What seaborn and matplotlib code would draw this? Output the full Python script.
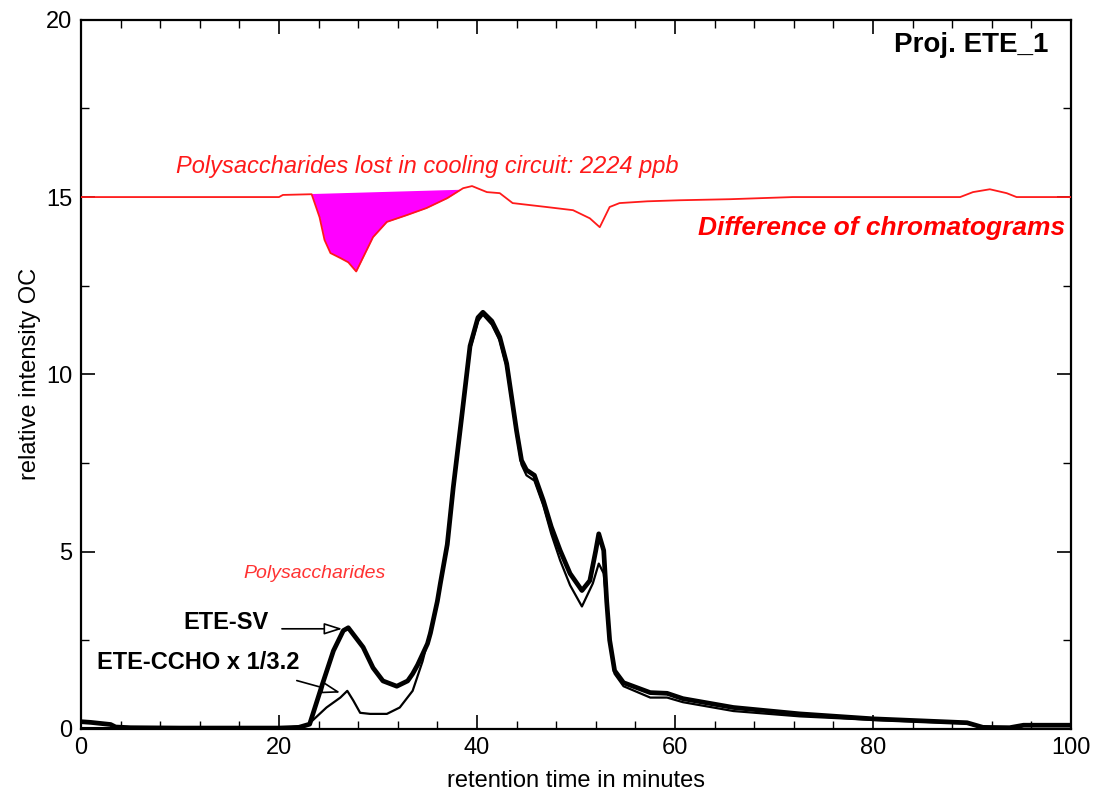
import numpy as np
import pandas as pd
import matplotlib
matplotlib.use("Agg")
import matplotlib.pyplot as plt
import seaborn as sns
from matplotlib.ticker import MultipleLocator

# ---------------- data ----------------
sv_x = [0, 1, 2, 3, 3.5, 5, 10, 15, 20, 22, 23.1, 24.4, 25.5, 26.5, 27, 28.5, 29.5, 30.5, 31.9,
        33.0, 33.5, 34, 35, 35.3, 36, 36.3, 37, 37.6, 38.5, 39.3, 40.1, 40.6, 41.5, 42.3, 43,
        43.5, 44, 44.5, 45, 45.8, 46.7, 47.5, 48.4, 49.4, 50.6, 51.4, 52.0, 52.3, 52.8, 53.1,
        53.4, 53.9, 54.8, 57.5, 59.2, 60.8, 65.9, 72.6, 80, 89.5, 91.1, 93.8, 95.2, 100]
sv_y = [0.2, 0.18, 0.15, 0.12, 0.05, 0.03, 0.02, 0.02, 0.02, 0.04, 0.13, 1.27, 2.2, 2.77, 2.85,
        2.3, 1.72, 1.35, 1.2, 1.35, 1.55, 1.8, 2.4, 2.7, 3.6, 4.1, 5.2, 6.8, 8.9, 10.8, 11.6,
        11.75, 11.5, 11.05, 10.3, 9.35, 8.4, 7.57, 7.3, 7.15, 6.44, 5.7, 5.03, 4.38, 3.9, 4.18,
        5.03, 5.5, 5.03, 3.6, 2.5, 1.64, 1.3, 1.02, 1.0, 0.85, 0.6, 0.42, 0.28, 0.17, 0.04,
        0.03, 0.1, 0.1]

ccho_x = [0, 5, 10, 15, 20, 22.8, 24.8, 26.2, 26.9, 27.5, 28.2, 29.2, 30.9, 32.2, 33.5, 34.5,
          35.6, 36.3, 37, 37.6, 38.5, 39.3, 40.1, 40.6, 41.5, 42.3, 43, 43.5, 44, 44.5, 45,
          45.8, 46.7, 47.5, 48.4, 49.4, 50.6, 51.7, 52.3, 52.8, 53.1, 53.4, 53.9, 54.8, 57.5,
          59.2, 60.8, 65.9, 72.6, 80, 89.5, 91.1, 93.8, 95.2, 100]
ccho_y = [0.02, 0.02, 0.02, 0.02, 0.02, 0.08, 0.6, 0.88, 1.07, 0.8, 0.45, 0.42, 0.42, 0.6,
          1.07, 1.9, 3.1, 4.1, 5.1, 6.7, 8.8, 10.7, 11.5, 11.68, 11.4, 10.95, 10.2, 9.25,
          8.3, 7.45, 7.15, 7.0, 6.3, 5.5, 4.75, 4.05, 3.45, 4.1, 4.66, 4.38, 3.5, 2.45, 1.55,
          1.2, 0.88, 0.88, 0.75, 0.5, 0.35, 0.25, 0.15, 0.02, 0.0, 0.08, 0.08]

diff_x = [0, 5, 10, 15, 20, 20.4, 23.3, 24.1, 24.6, 25.2, 26.2, 27.0, 27.8, 28.5, 29.5, 30.9,
          32.9, 34.9, 37.0, 38.6, 39.5, 41.0, 42.3, 43.6, 47.0, 49.7, 51.4, 52.4, 53.4, 54.4,
          57.2, 60.5, 65.6, 71.9, 88.8, 90.1, 91.8, 93.5, 94.5, 100]
diff_y = [15.0, 15.0, 15.0, 15.0, 15.0, 15.06, 15.08, 14.43, 13.79, 13.42, 13.28, 13.16, 12.9,
          13.3, 13.87, 14.3, 14.49, 14.69, 14.97, 15.25, 15.31, 15.14, 15.11, 14.83, 14.72,
          14.63, 14.4, 14.15, 14.72, 14.83, 14.88, 14.91, 14.94, 15.0, 15.0, 15.14, 15.22,
          15.11, 15.0, 15.0]

# baseline segment bounding the lost-polysaccharide area (start, end)
fill_x_ends = [23.3, 38.3]
fill_y_ends = [15.1, 15.22]

x_ticks = [0, 20, 40, 60, 80, 100]
y_ticks = [0, 5, 10, 15, 20]

# ---------------- plot ----------------
sns.set_style("ticks")
plt.rcParams['font.family'] = ['Liberation Sans', 'DejaVu Sans']
plt.rcParams['text.color'] = 'black'
plt.rcParams['axes.labelcolor'] = 'black'
plt.rcParams['xtick.color'] = 'black'
plt.rcParams['ytick.color'] = 'black'

fig, ax = plt.subplots(figsize=(10.94, 7.93), dpi=100)
fig.subplots_adjust(left=0.074, right=0.979, bottom=0.081, top=0.975)

df_sv = pd.DataFrame({"t": sv_x, "v": sv_y})
df_cc = pd.DataFrame({"t": ccho_x, "v": ccho_y})
df_df = pd.DataFrame({"t": diff_x, "v": diff_y})

# fill area
fx = np.array(diff_x)
mask = (fx >= fill_x_ends[0]) & (fx <= fill_x_ends[1])
fxx = np.concatenate([[fill_x_ends[0]], fx[mask], [fill_x_ends[1]]])
fyy_curve = np.interp(fxx, diff_x, diff_y)
fyy_line = np.interp(fxx, fill_x_ends, fill_y_ends)
ax.fill_between(fxx, fyy_curve, fyy_line, color="#ff00ff", linewidth=0, zorder=2)

sns.lineplot(data=df_df, x="t", y="v", ax=ax, color="#ff1a1a", linewidth=1.3,
             estimator=None, sort=False, zorder=3)
sns.lineplot(data=df_cc, x="t", y="v", ax=ax, color="black", linewidth=1.6,
             estimator=None, sort=False, zorder=4)
sns.lineplot(data=df_sv, x="t", y="v", ax=ax, color="black", linewidth=3.4,
             estimator=None, sort=False, zorder=5)

ax.set_xlim(0, 100)
ax.set_ylim(0, 20)
ax.set_xticks(x_ticks)
ax.set_yticks(y_ticks)
ax.xaxis.set_minor_locator(MultipleLocator(4))
ax.yaxis.set_minor_locator(MultipleLocator(2.5))
ax.tick_params(which="both", direction="in", top=True, right=True, labelsize=17,
               color="black", labelcolor="black", pad=6)
ax.tick_params(which="major", length=10, width=1.2)
ax.tick_params(which="minor", length=6, width=1.0)
for s in ax.spines.values():
    s.set_visible(True)
    s.set_linewidth(1.6)
    s.set_color("black")

ax.set_xlabel("retention time in minutes", fontsize=17, labelpad=8, color="black")
ax.set_ylabel("relative intensity OC", fontsize=17, labelpad=4, color="black")

ax.text(97.7, 19.3, "Proj. ETE_1", fontsize=20, fontweight="bold", ha="right", va="center",
        color="black")
ax.text(9.6, 15.85, "Polysaccharides lost in cooling circuit: 2224 ppb", fontsize=17,
        style="italic", color="#ff1a1a", ha="left", va="center")
ax.text(99.4, 14.12, "Difference of chromatograms", fontsize=19, style="italic",
        fontweight="bold", color="#ff0000", ha="right", va="center")
ax.text(16.4, 4.38, "Polysaccharides", fontsize=14, style="italic", color="#ff3333",
        ha="left", va="center")
ax.text(10.3, 3.0, "ETE-SV", fontsize=17, fontweight="bold", ha="left", va="center",
        color="black")
ax.text(1.6, 1.86, "ETE-CCHO x 1/3.2", fontsize=17, fontweight="bold", ha="left",
        va="center", color="black")

ax.annotate("", xy=(26.4, 2.82), xytext=(20.3, 2.82),
            arrowprops=dict(arrowstyle="-|>,head_length=1.1,head_width=0.35", fc="white",
                            ec="black", lw=1.2, shrinkA=0, shrinkB=0), zorder=6)
ax.annotate("", xy=(26.2, 1.02), xytext=(21.8, 1.36),
            arrowprops=dict(arrowstyle="-|>,head_length=1.1,head_width=0.35", fc="white",
                            ec="black", lw=1.2, shrinkA=0, shrinkB=0), zorder=6)

fig.savefig("out.png", dpi=100)
